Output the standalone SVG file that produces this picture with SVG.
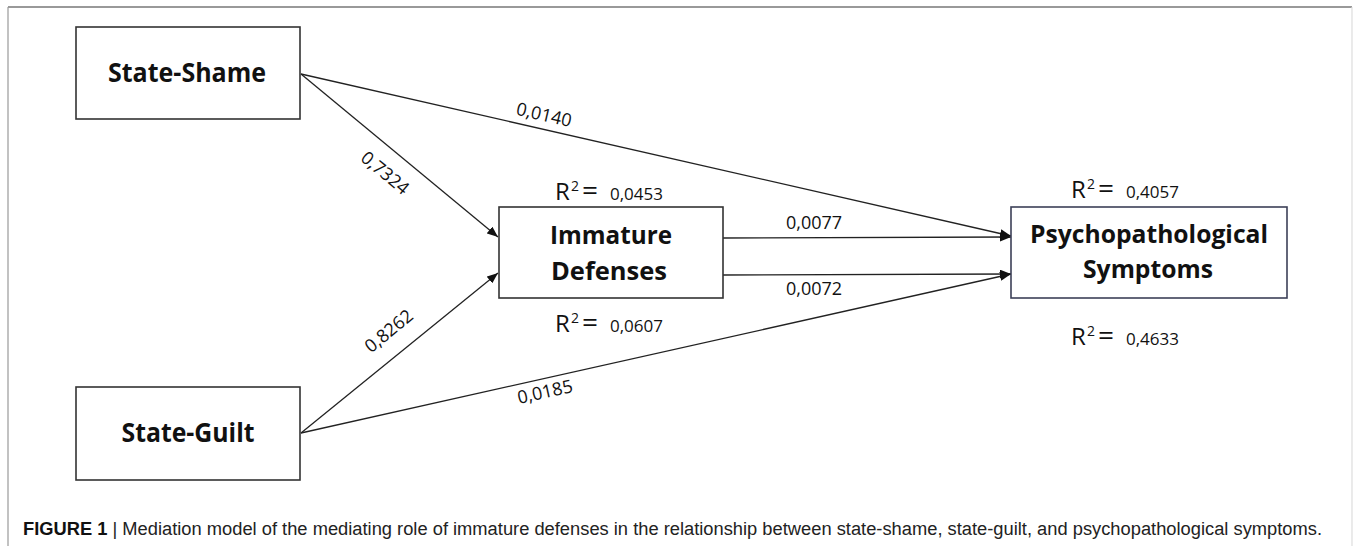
<svg xmlns="http://www.w3.org/2000/svg" width="1354" height="546" viewBox="0 0 1354 546">
<defs>
<marker id="ah" viewBox="0 0 10 8" refX="10" refY="4" markerWidth="11" markerHeight="9" markerUnits="userSpaceOnUse" orient="auto">
<path d="M0,0 L10,4 L0,8 Z" fill="#111"/>
</marker>
<style>
.box{fill:#fff;stroke:#333;stroke-width:1.6}
.nl{font-family:"Open Sans","Liberation Sans",sans-serif;font-weight:bold;fill:#111;text-anchor:middle}
.el{font-family:"Open Sans","Liberation Sans",sans-serif;font-size:18px;fill:#111;text-anchor:middle}
.r{font-family:"Open Sans","Liberation Sans",sans-serif;fill:#111}
.edge{stroke:#222;stroke-width:1.3;fill:none;marker-end:url(#ah)}
.cap{font-family:"Liberation Sans",Arial,sans-serif;font-size:18px;fill:#222}
</style>
</defs>
<rect width="1354" height="546" fill="#fff"/>
<g id="frame">
<line x1="8" y1="7" x2="1352" y2="7" stroke="#777" stroke-width="1.5"/>
<line x1="8" y1="7" x2="8" y2="546" stroke="#999" stroke-width="1.2"/>
<line x1="1352" y1="7" x2="1352" y2="546" stroke="#ddd" stroke-width="1.2"/>
</g>
<g id="connectors">
<line class="edge" x1="301" y1="74" x2="498" y2="237"/>
<line class="edge" x1="301" y1="74" x2="1011" y2="236"/>
<line class="edge" x1="723" y1="238" x2="1011" y2="237"/>
<line class="edge" x1="723" y1="275" x2="1011" y2="274"/>
<line class="edge" x1="301" y1="433" x2="498" y2="273"/>
<line class="edge" x1="301" y1="433" x2="1011" y2="274"/>
</g>
<g id="edge-labels">
<text class="el" transform="translate(544,115) rotate(13)" y="6">0,0140</text>
<text class="el" transform="translate(385,173) rotate(39.7)" y="6">0,7324</text>
<text class="el" transform="translate(389,331) rotate(-39.2)" y="6">0,8262</text>
<text class="el" transform="translate(545,392) rotate(-12.6)" y="6">0,0185</text>
<text class="el" x="814" y="229">0,0077</text>
<text class="el" x="814" y="295">0,0072</text>
</g>
<g id="state-shame">
<rect class="box" x="76" y="27" width="224" height="92"/>
<text class="nl" x="187" y="82" font-size="27" textLength="158" lengthAdjust="spacingAndGlyphs">State-Shame</text>
</g>
<g id="state-guilt">
<rect class="box" x="76" y="387" width="224" height="93"/>
<text class="nl" x="188" y="442" font-size="27" textLength="133" lengthAdjust="spacingAndGlyphs">State-Guilt</text>
</g>
<g id="immature-defenses">
<rect class="box" x="499" y="207" width="224" height="91"/>
<text class="nl" x="611" y="244" font-size="25" textLength="122" lengthAdjust="spacingAndGlyphs">Immature</text>
<text class="nl" x="609" y="280" font-size="25" textLength="116" lengthAdjust="spacingAndGlyphs">Defenses</text>
<text class="r"><tspan x="555" y="200" font-size="24">R</tspan><tspan x="571" y="191" font-size="14">2</tspan><tspan x="582" y="200" font-size="28">=</tspan><tspan x="610" y="200" font-size="17">0,0453</tspan></text>
<text class="r"><tspan x="555" y="332" font-size="24">R</tspan><tspan x="571" y="323" font-size="14">2</tspan><tspan x="582" y="332" font-size="28">=</tspan><tspan x="610" y="332" font-size="17">0,0607</tspan></text>
</g>
<g id="psychopathological-symptoms">
<rect class="box" x="1011" y="207" width="276" height="91" style="stroke:#3c4058"/>
<text class="nl" x="1149" y="243" font-size="25" textLength="238" lengthAdjust="spacingAndGlyphs">Psychopathological</text>
<text class="nl" x="1148" y="278" font-size="25" textLength="130" lengthAdjust="spacingAndGlyphs">Symptoms</text>
<text class="r"><tspan x="1071" y="198" font-size="24">R</tspan><tspan x="1087" y="189" font-size="14">2</tspan><tspan x="1098" y="198" font-size="28">=</tspan><tspan x="1126" y="198" font-size="17">0,4057</tspan></text>
<text class="r"><tspan x="1071" y="345" font-size="24">R</tspan><tspan x="1087" y="336" font-size="14">2</tspan><tspan x="1098" y="345" font-size="28">=</tspan><tspan x="1126" y="345" font-size="17">0,4633</tspan></text>
</g>
<g id="caption">
<text class="cap" x="23" y="535" textLength="1299" lengthAdjust="spacingAndGlyphs"><tspan font-weight="bold" fill="#111">FIGURE 1</tspan>  |  Mediation model of the mediating role of immature defenses in the relationship between state-shame, state-guilt, and psychopathological symptoms.</text>
</g>
</svg>
